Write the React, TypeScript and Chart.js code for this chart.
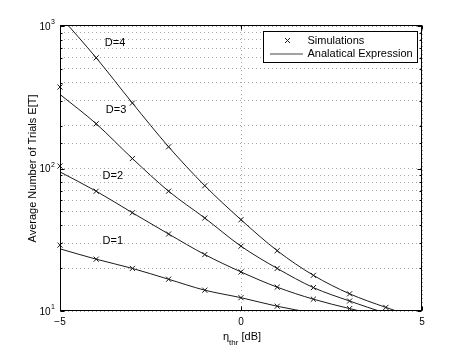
import React, { useEffect, useRef } from 'react';
import { Chart, registerables } from 'chart.js';

Chart.register(...registerables);

// ---- data ----
const etaLine = [-5, -4, -3, -2, -1, 0, 1, 2, 3, 4, 5];
const lineD1 = [27.3, 23.1, 19.9, 16.7, 14.0, 12.4, 10.8, 9.7, 9.0, 8.4, 7.8];
const lineD2 = [94.6, 69.3, 48.9, 34.7, 24.9, 18.8, 14.7, 12.1, 10.4, 9.1, 8.2];
const lineD3 = [331, 206, 117.5, 69.3, 44.9, 28.5, 19.9, 14.6, 11.75, 9.7, 8.5];
const lineD4 = [1175, 598, 288, 142, 75.7, 43.7, 26.5, 17.8, 13.2, 10.6, 8.7];

const etaSimD1 = [-5, -4, -3, -2, -1, 0, 1];
const simD1 = [29.0, 23.1, 19.9, 16.7, 14.0, 12.4, 10.8];
const etaSimD2 = [-5, -4, -3, -2, -1, 0, 1, 2, 3];
const simD2 = [104, 69.3, 48.9, 34.7, 24.9, 18.8, 14.7, 12.1, 10.4];
const etaSimD3 = [-5, -4, -3, -2, -1, 0, 1, 2, 3];
const simD3 = [373, 206, 117.5, 69.3, 44.9, 28.5, 19.9, 14.6, 11.75];
const etaSimD4 = [-4, -3, -2, -1, 0, 1, 2, 3, 4];
const simD4 = [598, 288, 142, 75.7, 43.7, 26.5, 17.8, 13.2, 10.6];

const curveLabels = ['D=1', 'D=2', 'D=3', 'D=4'];
const curveLabelEta = [-3.54, -3.54, -3.45, -3.48];
const curveLabelVal = [30.9, 88.3, 256, 755];

const xTickValues = [-5, 0, 5];
const xTickLabels = ['\u22125', '0', '5'];
const yMajorValues = [10, 100, 1000];
const yMajorExps = ['1', '2', '3'];

const legendLabels = ['Simulations', 'Analatical Expression'];
const xTitleMain = '\u03b7';
const xTitleSub = 'thr';
const xTitleUnit = ' [dB]';
const yTitle = 'Average Number of Trials E[T]';

const FONT = '"Liberation Sans", Arial, Helvetica, sans-serif';
const LINE_COLOR = '#1a1a1a';

const toPts = (xs: number[], ys: number[]) => xs.map((x, i) => ({ x, y: ys[i] }));

const decorPlugin = {
  id: 'decor',
  afterDatasetsDraw(chart: any) {
    const { ctx, chartArea: a, scales } = chart;
    const xs = scales.x;
    const ys = scales.y;
    ctx.save();
    const L = Math.round(a.left) + 0.5;
    const R = Math.round(a.right) - 0.5;
    const T = Math.round(a.top) - 0.5;
    const B = Math.round(a.bottom) - 0.5;

    // frame
    ctx.strokeStyle = '#000';
    ctx.lineWidth = 1;
    ctx.setLineDash([]);
    ctx.strokeRect(L, T, R - L, B - T);

    // inward ticks on y
    ctx.beginPath();
    for (const t of ys.ticks) {
      const py = Math.round(ys.getPixelForValue(t.value)) + 0.5;
      const lg = Math.log10(t.value);
      const len = Math.abs(lg - Math.round(lg)) < 1e-6 ? 4 : 2;
      ctx.moveTo(L, py); ctx.lineTo(L + len, py);
      ctx.moveTo(R, py); ctx.lineTo(R - len, py);
    }
    for (const v of xTickValues) {
      const px = Math.round(xs.getPixelForValue(v)) + 0.5;
      ctx.moveTo(px, B); ctx.lineTo(px, B - 4);
      ctx.moveTo(px, T); ctx.lineTo(px, T + 4);
    }
    ctx.stroke();

    ctx.fillStyle = '#000';
    // x tick labels
    ctx.font = `10px ${FONT}`;
    ctx.textAlign = 'center';
    ctx.textBaseline = 'middle';
    xTickValues.forEach((v, i) => {
      ctx.fillText(xTickLabels[i], xs.getPixelForValue(v), a.bottom + 11);
    });

    // y tick labels with exponent
    yMajorValues.forEach((v, i) => {
      const py = ys.getPixelForValue(v);
      ctx.font = `10px ${FONT}`;
      ctx.textAlign = 'right';
      ctx.textBaseline = 'middle';
      ctx.fillText('10', a.left - 9.5, py + 1);
      ctx.font = `7px ${FONT}`;
      ctx.textAlign = 'left';
      ctx.fillText(yMajorExps[i], a.left - 9, py - 3.5);
    });

    // x title
    const cx = (a.left + a.right) / 2;
    ctx.textBaseline = 'alphabetic';
    ctx.font = `11px ${FONT}`;
    const wMain = ctx.measureText(xTitleMain).width;
    const wUnit = ctx.measureText(xTitleUnit).width;
    ctx.font = `8px ${FONT}`;
    const wSub = ctx.measureText(xTitleSub).width;
    const total = wMain + wSub + wUnit;
    let sx = cx - total / 2 + 1;
    const base = a.bottom + 29;
    ctx.textAlign = 'left';
    ctx.font = `11px ${FONT}`;
    ctx.fillText(xTitleMain, sx, base);
    sx += wMain;
    ctx.font = `8px ${FONT}`;
    ctx.fillText(xTitleSub, sx, base + 5);
    sx += wSub;
    ctx.font = `11px ${FONT}`;
    ctx.fillText(xTitleUnit, sx, base);

    // y title
    ctx.save();
    ctx.translate(33, (a.top + a.bottom) / 2);
    ctx.rotate(-Math.PI / 2);
    ctx.textAlign = 'center';
    ctx.textBaseline = 'middle';
    ctx.font = `11px ${FONT}`;
    ctx.fillText(yTitle, 0, 0);
    ctx.restore();

    // curve labels
    ctx.font = `11px ${FONT}`;
    ctx.textAlign = 'center';
    ctx.textBaseline = 'middle';
    curveLabels.forEach((s, i) => {
      ctx.fillText(s, xs.getPixelForValue(curveLabelEta[i]), ys.getPixelForValue(curveLabelVal[i]));
    });

    // legend box
    const lx = 263.5, ly = 31.5, lw = 154, lh = 31;
    ctx.fillStyle = '#fff';
    ctx.fillRect(lx, ly, lw, lh);
    ctx.strokeStyle = '#000';
    ctx.strokeRect(lx, ly, lw, lh);
    // marker
    const mx = 287.5, my = 40.5, r = 2.5;
    ctx.beginPath();
    ctx.moveTo(mx - r, my - r); ctx.lineTo(mx + r, my + r);
    ctx.moveTo(mx - r, my + r); ctx.lineTo(mx + r, my - r);
    ctx.strokeStyle = LINE_COLOR;
    ctx.stroke();
    // line sample
    ctx.beginPath();
    ctx.moveTo(270, 54); ctx.lineTo(303, 54);
    ctx.strokeStyle = '#444';
    ctx.stroke();
    ctx.fillStyle = '#000';
    ctx.font = `11px ${FONT}`;
    ctx.textAlign = 'left';
    ctx.textBaseline = 'middle';
    ctx.fillText(legendLabels[0], 307.5, 41);
    ctx.fillText(legendLabels[1], 307.5, 54);

    ctx.restore();
  },
};

export default function App() {
  const ref = useRef<HTMLCanvasElement | null>(null);
  useEffect(() => {
    if (!ref.current) return;
    const lineSet = (ys: number[]) => ({
      data: toPts(etaLine, ys),
      borderColor: LINE_COLOR,
      borderWidth: 1,
      pointRadius: 0,
      fill: false,
      cubicInterpolationMode: 'monotone' as const,
      showLine: true,
    });
    const simSet = (xs: number[], ys: number[]) => ({
      data: toPts(xs, ys),
      showLine: false,
      pointStyle: 'crossRot' as const,
      pointRadius: 3.6,
      borderColor: LINE_COLOR,
      backgroundColor: LINE_COLOR,
      pointBorderWidth: 1,
      borderWidth: 1,
      clip: 8,
    });
    const chart = new Chart(ref.current, {
      type: 'line',
      data: {
        datasets: [
          lineSet(lineD1) as any,
          lineSet(lineD2) as any,
          lineSet(lineD3) as any,
          lineSet(lineD4) as any,
          simSet(etaSimD1, simD1) as any,
          simSet(etaSimD2, simD2) as any,
          simSet(etaSimD3, simD3) as any,
          simSet(etaSimD4, simD4) as any,
        ],
      },
      options: {
        responsive: false,
        animation: false,
        devicePixelRatio: 1,
        layout: { padding: { left: 60, right: 44, top: 26, bottom: 39 } },
        plugins: { legend: { display: false }, tooltip: { enabled: false } },
        scales: {
          x: {
            type: 'linear',
            min: -5,
            max: 5,
            ticks: { display: false, stepSize: 5 },
            grid: { color: '#a8a8a8', lineWidth: 1, drawTicks: false },
            border: { display: false, dash: [1, 3] },
          },
          y: {
            type: 'logarithmic',
            min: 10,
            max: 1000,
            ticks: { display: false },
            grid: { color: '#a8a8a8', lineWidth: 1, drawTicks: false },
            border: { display: false, dash: [1, 3] },
          },
        },
      },
      plugins: [decorPlugin],
    });
    return () => chart.destroy();
  }, []);
  return (
    <div style={{ position: 'absolute', left: 0, top: 0, width: 466, height: 350, background: '#fff' }}>
      <canvas ref={ref} width={466} height={350} />
    </div>
  );
}
